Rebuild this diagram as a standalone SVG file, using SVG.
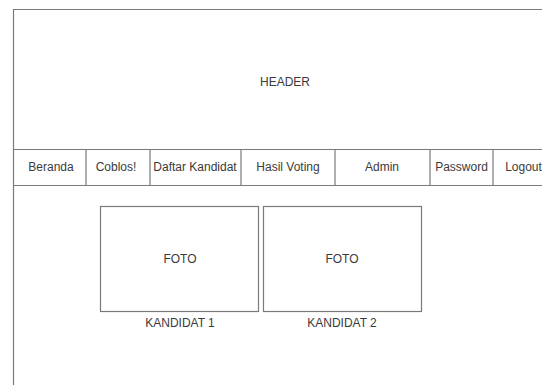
<svg xmlns="http://www.w3.org/2000/svg" width="542" height="385" viewBox="0 0 542 385">
<style>
.ln{fill:none;stroke:#7a7a7a;stroke-width:1.2}
.bx{fill:#ffffff;stroke:#7a7a7a;stroke-width:1.2}
.t{font-family:"Liberation Sans",Arial,sans-serif;font-size:12px;fill:#3a3a3a;text-anchor:middle;dominant-baseline:central}
</style>
<rect width="542" height="385" fill="#ffffff"/>
<g id="frame">
<path class="ln" d="M13.5 390 V9.5 H545"/>
</g>
<g id="header">
<text class="t" x="285" y="82">HEADER</text>
</g>
<g id="navbar">
<path class="ln" d="M13.5 149.5 H545 M13.5 185.5 H545"/>
<path class="ln" d="M86 149.5 V185.5 M150 149.5 V185.5 M241 149.5 V185.5 M335 149.5 V185.5 M430 149.5 V185.5 M493 149.5 V185.5"/>
</g>
<g id="nav-beranda"><text class="t" x="51" y="167">Beranda</text></g>
<g id="nav-coblos"><text class="t" x="116" y="167">Coblos!</text></g>
<g id="nav-daftar"><text class="t" x="195" y="167">Daftar Kandidat</text></g>
<g id="nav-hasil"><text class="t" x="288" y="167">Hasil Voting</text></g>
<g id="nav-admin"><text class="t" x="382" y="167">Admin</text></g>
<g id="nav-password"><text class="t" x="461.5" y="167">Password</text></g>
<g id="nav-logout"><text class="t" x="523.5" y="167">Logout</text></g>
<g id="kandidat1">
<rect class="bx" x="100.5" y="206.5" width="158" height="105"/>
<text class="t" x="180" y="259">FOTO</text>
<text class="t" x="180" y="323">KANDIDAT 1</text>
</g>
<g id="kandidat2">
<rect class="bx" x="263.5" y="206.5" width="158" height="105"/>
<text class="t" x="342" y="259">FOTO</text>
<text class="t" x="342" y="323">KANDIDAT 2</text>
</g>
</svg>
